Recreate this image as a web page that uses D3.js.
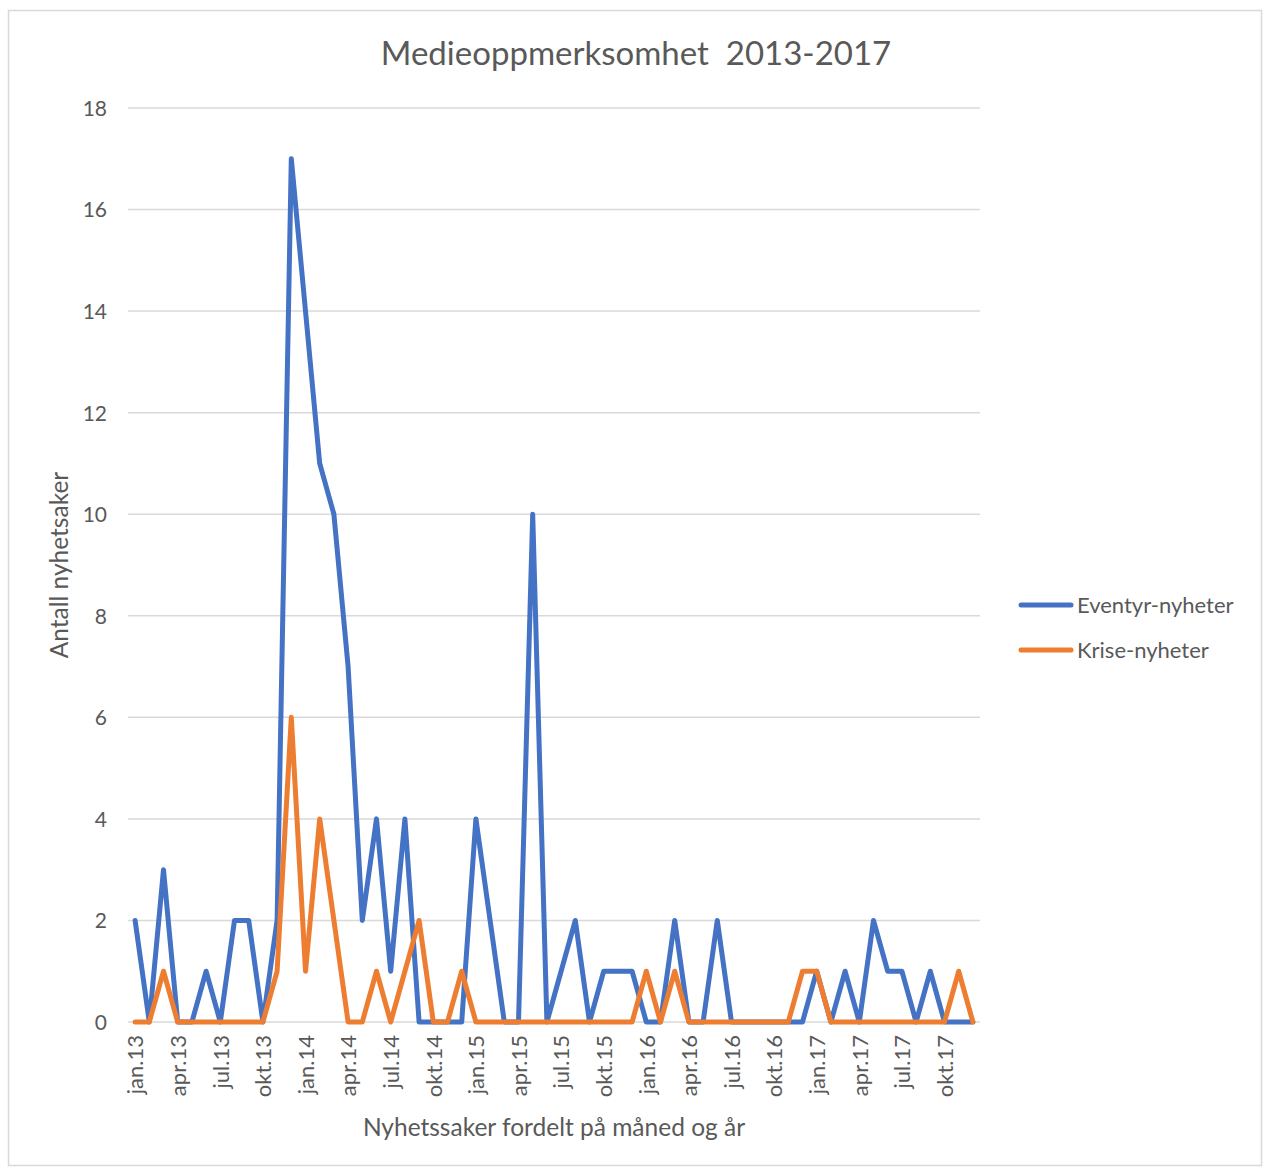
<!DOCTYPE html>
<html><head><meta charset="utf-8">
<script src="https://cdn.jsdelivr.net/npm/d3@7"></script>
<style>
html,body{margin:0;padding:0;background:#fff;}
svg{display:block;font-family:Lato,"Open Sans",sans-serif;}
</style></head>
<body><svg id="c" width="1264" height="1167"></svg>
<script>
const monthNames = ["jan","feb","mar","apr","mai","jun","jul","aug","sep","okt","nov","des"];
const years = ["13","14","15","16","17"];
const categories = years.flatMap(y => monthNames.map(m => m + "." + y));
const tickLabels = ["jan.13","apr.13","jul.13","okt.13","jan.14","apr.14","jul.14","okt.14",
  "jan.15","apr.15","jul.15","okt.15","jan.16","apr.16","jul.16","okt.16",
  "jan.17","apr.17","jul.17","okt.17"];
const eventyr = [2,0,3,0,0,1,0,2,2,0, 2,17,14,11,10,7,2,4,1,4, 0,0,0,0,4,2,0,0,10,0,
  1,2,0,1,1,1,0,0,2,0, 0,2,0,0,0,0,0,0,1,0, 1,0,2,1,1,0,1,0,0,0];
const krise = [0,0,1,0,0,0,0,0,0,0, 1,6,1,4,2,0,0,1,0,1, 2,0,0,1,0,0,0,0,0,0,
  0,0,0,0,0,0,1,0,1,0, 0,0,0,0,0,0,0,1,1,0, 0,0,0,0,0,0,0,0,1,0];
const yTicks = [0,2,4,6,8,10,12,14,16,18];
const seriesNames = ["Eventyr-nyheter","Krise-nyheter"];
const colors = ["#4472C4","#ED7D31"];
const title = "Medieoppmerksomhet  2013-2017";
const yTitle = "Antall nyhetsaker";
const xTitle = "Nyhetssaker fordelt på måned og år";

const svg = d3.select("#c");
const textColor = "#595959";

svg.append("rect").attr("x",8.5).attr("y",10.5).attr("width",1253).attr("height",1155)
  .attr("fill","#fff").attr("stroke","#d9d9d9").attr("stroke-width",1.5);

const x = d3.scalePoint().domain(categories).range([128,980]).padding(0.5);
const y = d3.scaleLinear().domain([0,18]).range([1022,108]);

// gridlines
svg.append("g").selectAll("line").data(yTicks).join("line")
  .attr("x1",128).attr("x2",980)
  .attr("y1",d=>y(d)).attr("y2",d=>y(d))
  .attr("stroke","#d9d9d9").attr("stroke-width",1.5);

// y axis labels
const yAxis = d3.axisLeft(y).tickValues(yTicks).tickSize(0).tickPadding(0);
const gy = svg.append("g").attr("transform","translate(107,0)").call(yAxis);
gy.select(".domain").remove();
gy.selectAll("text").attr("font-size",21).attr("fill",textColor)
  .attr("font-family","Lato,'Open Sans',sans-serif").attr("dy","0.35em");

// x axis labels
const xAxis = d3.axisBottom(x).tickValues(tickLabels).tickSize(0).tickPadding(0);
const gx = svg.append("g").attr("transform","translate(0,1022)").call(xAxis);
gx.select(".domain").remove();
gx.selectAll("text").attr("font-size",22).attr("fill",textColor)
  .attr("font-family","Lato,'Open Sans',sans-serif")
  .attr("text-anchor","end").attr("dy","0.35em").attr("y",0)
  .attr("transform","translate(0,13) rotate(-90)");

// lines
const line = d3.line().x((d,i)=>x(categories[i])).y(d=>y(d));
[eventyr,krise].forEach((s,k)=>{
  svg.append("path").datum(s).attr("d",line).attr("fill","none")
    .attr("stroke",colors[k]).attr("stroke-width",5)
    .attr("stroke-linejoin","round").attr("stroke-linecap","round");
});

// title
svg.append("text").attr("x",636).attr("y",65).attr("text-anchor","middle")
  .attr("font-size",33).attr("fill",textColor).style("white-space","pre").text(title);

// axis titles
svg.append("text").attr("transform","translate(68,565) rotate(-90)").attr("text-anchor","middle")
  .attr("font-size",24.5).attr("fill",textColor).text(yTitle);
svg.append("text").attr("x",554).attr("y",1136).attr("text-anchor","middle")
  .attr("font-size",24.5).attr("fill",textColor).text(xTitle);

// legend
const lg = svg.append("g");
seriesNames.forEach((n,k)=>{
  const ly = 605 + k*45;
  lg.append("line").attr("x1",1021).attr("x2",1071).attr("y1",ly).attr("y2",ly)
    .attr("stroke",colors[k]).attr("stroke-width",5).attr("stroke-linecap","round");
  lg.append("text").attr("x",1077).attr("y",ly).attr("dy","0.35em")
    .attr("font-size",22).attr("fill",textColor).text(n);
});
</script></body></html>
